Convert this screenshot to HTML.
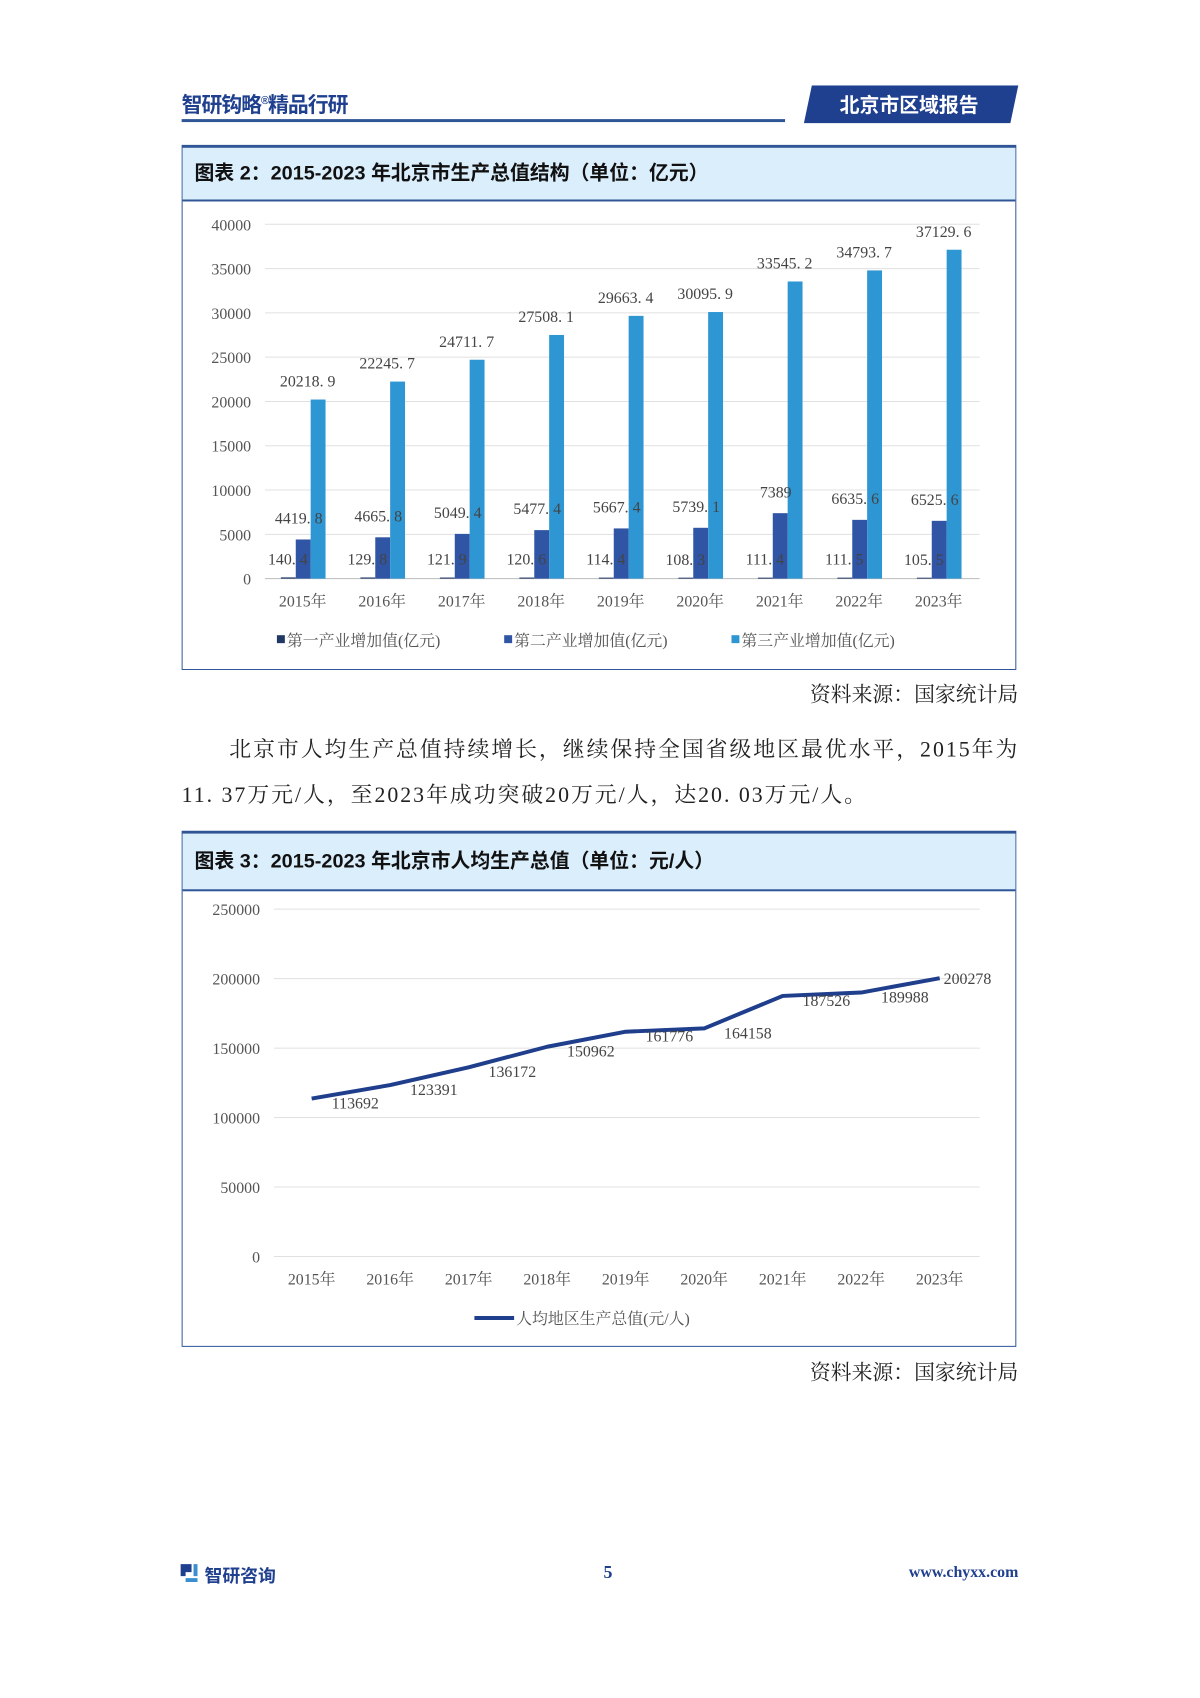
<!DOCTYPE html>
<html><head><meta charset="utf-8">
<style>
html,body{margin:0;padding:0;background:#fff;}
body{width:1200px;height:1698px;position:relative;overflow:hidden;font-family:"Liberation Serif","Noto Serif CJK SC",serif;}
#wrap{position:absolute;left:0;top:0;width:1200px;height:1710px;transform:scale(0.9925);transform-origin:0 0;}
.abs{position:absolute;}
.hdr{left:183px;top:90px;font:bold 21px "Liberation Sans","Noto Sans CJK SC",sans-serif;color:#1f3f8f;letter-spacing:-1px;}
.box{position:absolute;left:183px;width:841px;border:1.5px solid #2f5597;border-top:3px solid #2f5597;box-sizing:border-box;}
.band{background:#dbeefc;border-bottom:2px solid #2f5597;height:54px;box-sizing:border-box;padding-left:12px;font:bold 20px "Liberation Sans","Noto Sans CJK SC",sans-serif;line-height:52px;color:#111;}
.src{right:174px;font-size:21px;color:#222;}
.para{left:183px;width:843px;font-size:22px;color:#222;letter-spacing:2.0px;}
svg text{font-family:"Liberation Serif","Noto Serif CJK SC",serif;}
</style></head><body>
<div id="wrap">
<div class="abs hdr">智研钩略<sup style="font-size:11px">®</sup>精品行研</div>
<div class="abs" style="left:183px;top:120px;width:608px;height:3px;background:#2f5597"></div>
<svg class="abs" style="left:810px;top:86px" width="220" height="40">
<polygon points="8,0 216,0 208,38 0,38" fill="#1f3f8f"/>
<text x="106" y="27" text-anchor="middle" fill="#fff" style="font:bold 20px 'Liberation Sans','Noto Sans CJK SC',sans-serif">北京市区域报告</text></svg>

<div class="box" style="top:146px;height:529px">
<div class="band">图表 2：2015-2023 年北京市生产总值结构（单位：亿元）</div>
</div>
<svg id="c1" class="abs" style="left:0;top:0" width="1200" height="700"></svg>

<div class="abs src" style="top:684px">资料来源：国家统计局</div>
<div class="abs para" style="top:732px;line-height:46px;white-space:nowrap"><span style="padding-left:48px">北京市人均生产总值持续增长，继续保持全国省级地区最优水平，2015年为</span><br>11. 37万元/人，至2023年成功突破20万元/人，达20. 03万元/人。</div>

<div class="box" style="top:837px;height:520px">
<div class="band" style="height:58px;line-height:56px">图表 3：2015-2023 年北京市人均生产总值（单位：元/人）</div>
</div>
<svg id="c2" class="abs" style="left:0;top:0" width="1200" height="1400"></svg>
<div class="abs src" style="top:1367px">资料来源：国家统计局</div>

<svg class="abs" style="left:181px;top:1574px" width="20" height="22">
<path d="M1 2h11v8H6v4H1z" fill="#1f3f8f"/><path d="M14 2h4v12h-4zM6 16h12v4H6z" fill="#3a8fd0"/></svg>
<div class="abs" style="left:206px;top:1574px;font:bold 18px 'Liberation Sans','Noto Sans CJK SC',sans-serif;color:#1f3f8f">智研咨询</div>
<div class="abs" style="left:608px;top:1574px;font:bold 18px 'Liberation Serif',serif;color:#1f3f8f">5</div>
<div class="abs" style="right:174px;top:1576px;font:bold 16px 'Liberation Serif',serif;color:#1f3f8f">www.chyxx.com</div>
</div>
<script>
const years=["2015年","2016年","2017年","2018年","2019年","2020年","2021年","2022年","2023年"];
const primary=[140.4,129.8,121.9,120.6,114.4,108.3,111.4,111.5,105.5];
const secondary=[4419.8,4665.8,5049.4,5477.4,5667.4,5739.1,7389,6635.6,6525.6];
const tertiary=[20218.9,22245.7,24711.7,27508.1,29663.4,30095.9,33545.2,34793.7,37129.6];
const yTicks1=[0,5000,10000,15000,20000,25000,30000,35000,40000];
const perCapita=[113692,123391,136172,150962,161776,164158,187526,189988,200278];
const yTicks2=[0,50000,100000,150000,200000,250000];
const NS="http://www.w3.org/2000/svg";
function mk(svg,tag,attrs,txt){const e=document.createElementNS(NS,tag);for(const k in attrs)e.setAttribute(k,attrs[k]);if(txt!==undefined)e.textContent=txt;svg.appendChild(e);return e;}
function fmt(v){return String(v).replace('.','. ');}

(function(){
const s=document.getElementById('c1');
const y=v=>583-(v/40000)*(583-226);
const cx=i=>305+i*80.1;
yTicks1.forEach(t=>{
 const g=mk(s,'line',{x1:267,x2:987,y1:y(t),y2:y(t),stroke:t===0?'#bbb':'#e0e0e0','stroke-width':1});
 
 const l=mk(s,'text',{x:253,y:y(t)+6,'text-anchor':'end','font-size':16,fill:'#555'},t);
 
});
const series=[[primary,'#203864'],[secondary,'#2f55a4'],[tertiary,'#2e96d2']];
years.forEach((yr,i)=>{
 series.forEach((sr,j)=>{
  const v=sr[0][i];const x=cx(i)-22+j*15;
  const r=mk(s,'rect',{x:x,y:y(v),width:15,height:583-y(v),fill:sr[1]});
  
 });
 const t3=mk(s,'text',{x:cx(i)+5,y:y(tertiary[i])-13,'text-anchor':'middle','font-size':16,fill:'#444'},fmt(tertiary[i]));
 
 const t2=mk(s,'text',{x:cx(i)-4,y:y(secondary[i])-16,'text-anchor':'middle','font-size':16,fill:'#444'},fmt(secondary[i]));
 
 const t1=mk(s,'text',{x:cx(i)-15,y:y(primary[i])-13,'text-anchor':'middle','font-size':16,fill:'#444'},fmt(primary[i]));
 
 const xl=mk(s,'text',{x:cx(i),y:611,'text-anchor':'middle','font-size':16,fill:'#555'},yr);
 
});
const leg=[[279,'第一产业增加值(亿元)','#203864'],[508,'第二产业增加值(亿元)','#2f55a4'],[737,'第三产业增加值(亿元)','#2e96d2']];
leg.forEach(l=>{
 const r=mk(s,'rect',{x:l[0],y:640,width:8,height:8,fill:l[2]});
 
 const t=mk(s,'text',{x:l[0]+10,y:651,'font-size':16,fill:'#555'},l[1]);
 
});
})();

(function(){
const s=document.getElementById('c2');
const y=v=>1266-(v/250000)*(1266-916);
const cx=i=>314+i*79.1;
yTicks2.forEach(t=>{
 const g=mk(s,'line',{x1:276,x2:987,y1:y(t),y2:y(t),stroke:'#e0e0e0','stroke-width':1});
 
 const l=mk(s,'text',{x:262,y:y(t)+6,'text-anchor':'end','font-size':16,fill:'#555'},t);
 
});
const pts=perCapita.map((v,i)=>cx(i)+','+y(v)).join(' ');
const pl=mk(s,'polyline',{points:pts,fill:'none',stroke:'#1f3e8c','stroke-width':4,'stroke-linejoin':'round'});

years.forEach((yr,i)=>{
 const last=i===years.length-1;
 const t=mk(s,'text',{x:last?cx(i)+28:cx(i)+44,y:last?y(perCapita[i])+6:y(perCapita[i])+10,'text-anchor':'middle','font-size':16,fill:'#444'},perCapita[i]);
 
 const xl=mk(s,'text',{x:cx(i),y:1294,'text-anchor':'middle','font-size':16,fill:'#555'},yr);
 
});
const ll=mk(s,'line',{x1:478,x2:518,y1:1328,y2:1328,stroke:'#1f3e8c','stroke-width':4});

const lt=mk(s,'text',{x:520,y:1334,'font-size':16,fill:'#555'},'人均地区生产总值(元/人)');

})();
</script>
</body></html>
